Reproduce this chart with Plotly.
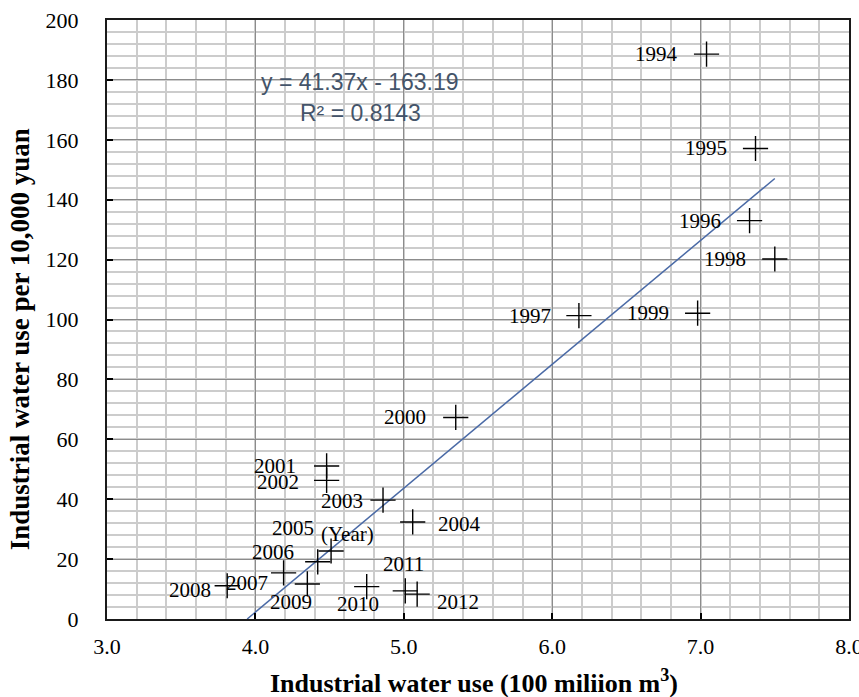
import numpy as np
import plotly.graph_objects as go

# ---- data ----
years = [1994, 1995, 1996, 1997, 1998, 1999, 2000, 2001, 2002, 2003,
         2004, 2005, 2006, 2007, 2008, 2009, 2010, 2011, 2012]
water_use = [7.04, 7.37, 7.33, 6.18, 7.50, 6.98, 5.35, 4.48, 4.48, 4.86,
             5.06, 4.51, 4.42, 4.19, 3.81, 4.35, 4.75, 5.01, 5.09]
water_per_10k = [188.6, 157.1, 133.0, 101.3, 120.2, 102.1, 67.3, 51.1, 46.3, 39.7,
                 32.4, 22.7, 19.1, 15.4, 11.1, 11.7, 10.8, 9.4, 8.3]
trend_slope = 41.37
trend_intercept = -163.19
r_squared = 0.8143
x_ticks = [3.0, 4.0, 5.0, 6.0, 7.0, 8.0]
y_ticks = [0, 20, 40, 60, 80, 100, 120, 140, 160, 180, 200]

# ---- label placement (pixels: anchor, dx, dy-down) ----
label_place = {
    1994: ("right", -27, 0), 1995: ("right", -27, 0), 1996: ("right", -27, 0),
    1997: ("right", -26, 0), 1998: ("right", -27, 0), 1999: ("right", -27, 0),
    2000: ("right", -28, 0), 2001: ("right", -29, 0), 2002: ("right", -26, 2),
    2003: ("right", -18, 1), 2004: ("left", 23, 2), 2005: ("right", -15, -23),
    2006: ("right", -22, -10), 2007: ("right", -14, 10), 2008: ("right", -14, 4),
    2009: ("center", -16, 18), 2010: ("center", -9, 17), 2011: ("center", -2, -27),
    2012: ("left", 18, 8),
}

SERIF = "Liberation Serif"
SANS = "Liberation Sans"

fig = go.Figure()

x_line = np.array([-trend_intercept / trend_slope, max(water_use)])
y_line = trend_slope * x_line + trend_intercept
fig.add_trace(go.Scatter(x=x_line, y=y_line, mode="lines",
                         line=dict(color="#4a6aa6", width=1.5),
                         hoverinfo="skip", showlegend=False))

fig.add_trace(go.Scatter(x=water_use, y=water_per_10k, mode="markers",
                         marker=dict(symbol="cross-thin", size=18,
                                     line=dict(color="black", width=1.4)),
                         showlegend=False))

annotations = []
for yr, xv, yv in zip(years, water_use, water_per_10k):
    anc, dx, dy = label_place[yr]
    annotations.append(dict(x=xv, y=yv, xref="x", yref="y", text=str(yr),
                            showarrow=False, xanchor=anc, yanchor="middle",
                            xshift=dx, yshift=-dy,
                            font=dict(family=SERIF, size=21, color="black")))
    if yr == 2005:
        annotations.append(dict(x=xv, y=yv, xref="x", yref="y", text="(Year)",
                                showarrow=False, xanchor="center", yanchor="middle",
                                xshift=16, yshift=17,
                                font=dict(family=SERIF, size=21, color="black")))

eq_color = "#44546a"
annotations.append(dict(x=0.341, y=0.8965, xref="paper", yref="paper",
                        text=f"y = {trend_slope}x - {abs(trend_intercept)}",
                        showarrow=False, xanchor="center", yanchor="middle",
                        font=dict(family=SANS, size=23, color=eq_color)))
annotations.append(dict(x=0.341, y=0.8447, xref="paper", yref="paper",
                        text=f"R² = {r_squared}",
                        showarrow=False, xanchor="center", yanchor="middle",
                        font=dict(family=SANS, size=23, color=eq_color)))

# axis titles
annotations.append(dict(x=0.495, y=0, xref="paper", yref="paper",
                        text="<b>Industrial water use (100 miliion m<sup>3</sup>)</b>",
                        showarrow=False, xanchor="center", yanchor="middle",
                        yshift=-62,
                        font=dict(family=SERIF, size=26, color="black")))
annotations.append(dict(x=0, y=0.467, xref="paper", yref="paper",
                        text="<b>Industrial water use per 10,000 yuan</b>",
                        showarrow=False, xanchor="center", yanchor="middle",
                        xshift=-87, textangle=-90,
                        font=dict(family=SERIF, size=27, color="black")))

fig.update_layout(
    width=859, height=697,
    margin=dict(l=107, r=10, t=20, b=78, autoexpand=False),
    paper_bgcolor="white", plot_bgcolor="white",
    font=dict(family=SERIF, size=22, color="black"),
    showlegend=False,
    annotations=annotations,
    xaxis=dict(range=[3.0, 8.0], tickvals=x_ticks,
               ticktext=[f"{v:.1f}" for v in x_ticks],
               tickfont=dict(family=SERIF, size=22, color="black"),
               ticks="inside", ticklen=6, tickcolor="black", tickwidth=1.5,
               ticklabelstandoff=7, ticklabeloverflow="allow", automargin=False,
               showline=True, linecolor="#1a1a1a", linewidth=2, mirror=True,
               showgrid=True, gridcolor="#8c8c8c", gridwidth=1.2,
               minor=dict(dtick=0.2, showgrid=True, gridcolor="#cccccc", gridwidth=1.6),
               zeroline=False),
    yaxis=dict(range=[0, 200], tickvals=y_ticks,
               tickfont=dict(family=SERIF, size=22, color="black"),
               ticks="inside", ticklen=6, tickcolor="black", tickwidth=1.5,
               ticklabelstandoff=22, ticklabeloverflow="allow", automargin=False,
               showline=True, linecolor="#1a1a1a", linewidth=2, mirror=True,
               showgrid=True, gridcolor="#8c8c8c", gridwidth=1.2,
               minor=dict(dtick=4, showgrid=True, gridcolor="#cccccc", gridwidth=1.6),
               zeroline=False),
)

fig.write_html("out.html")
